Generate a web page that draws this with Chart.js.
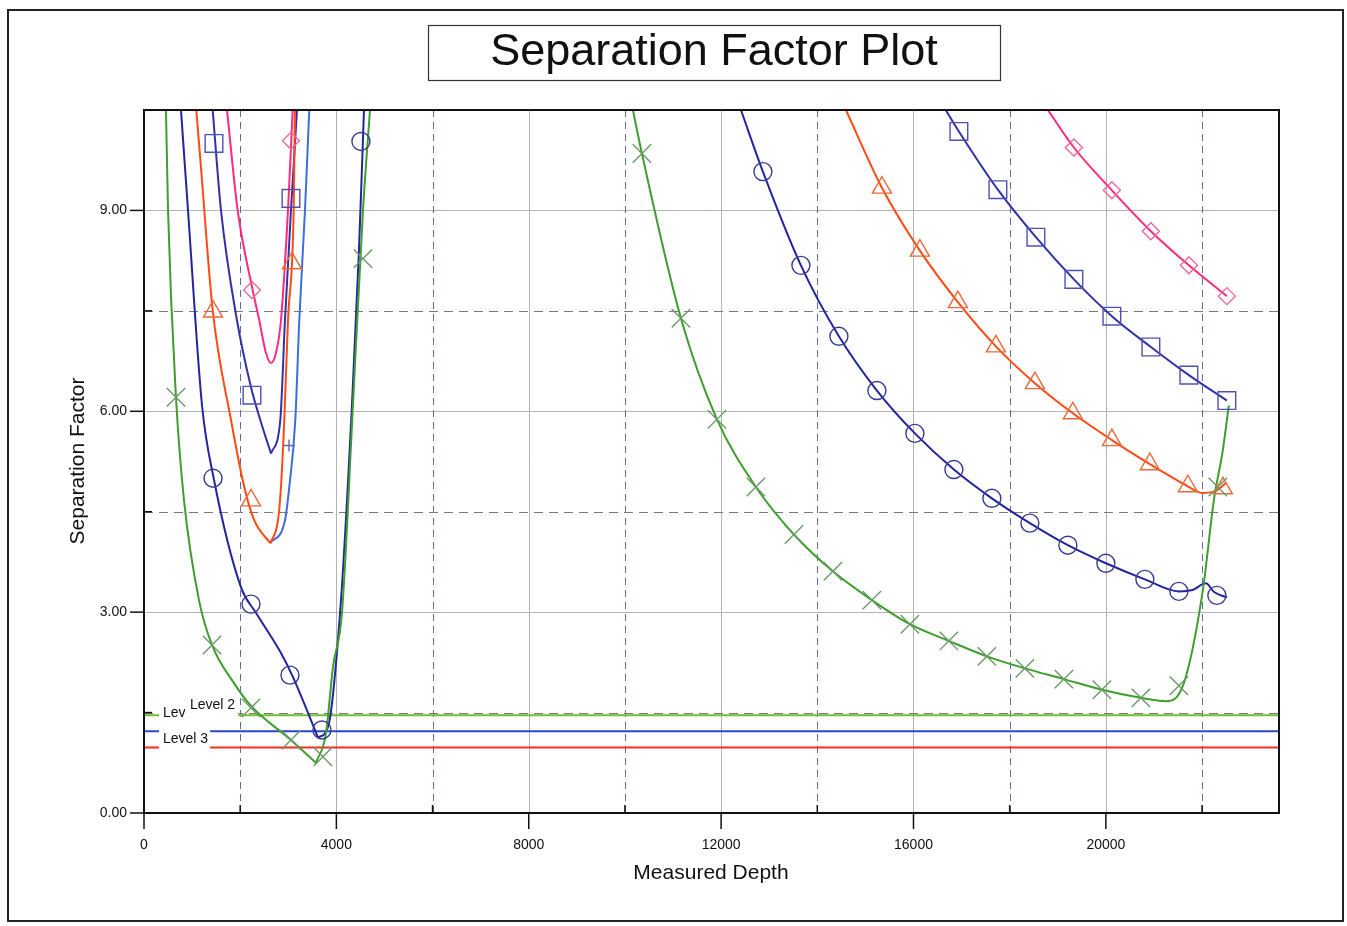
<!DOCTYPE html>
<html>
<head>
<meta charset="utf-8">
<script src="https://cdn.jsdelivr.net/npm/chart.js@4.4.1/dist/chart.umd.min.js"></script>
<style>
  html, body { margin: 0; padding: 0; background: #fff; }
</style>
</head>
<body>
<canvas id="myChart" width="1347" height="926"></canvas>
<script>
// axes
const depthTicks = [0, 4000, 8000, 12000, 16000, 20000];
const depthMinor = [2000, 6000, 10000, 14000, 18000, 22000];
const sfTicks = [0, 3, 6, 9];
const sfMinor = [1.5, 4.5, 7.5];

// level lines (separation factor)
const levelNames = ['Level 1', 'Level 2', 'Level 3'];
const levelValues = [1.46, 1.22, 0.98];
const levelDepth = [0, 23600];

// green x series  [measured depth, separation factor]
const greenFall = [[457,10.5],[500,9.0],[665,6.21],[832,4.67],[1143,3.18],[1414,2.51],[1871,1.94],[2225,1.6],[3056,1.09],[3576,0.75]];
const greenRise = [[3576,0.75],[3784,1.19],[3929,2.18],[4116,2.99],[4345,6.09],[4553,9.0],[4699,10.5]];
const greenTail = [[10166,10.5],[10353,9.85],[11164,7.39],[11913,5.88],[12723,4.87],[13514,4.16],[14324,3.61],[15135,3.18],[15925,2.82],[16736,2.57],[17526,2.34],[18316,2.16],[19127,2.0],[19917,1.84],[20728,1.72],[21250,1.67],[21622,1.94],[22017,3.33],[22245,4.67],[22432,5.42],[22557,6.09]];
const greenMarks = [[665,6.21],[1414,2.51],[2225,1.57],[3056,1.09],[3720,0.84],[4553,8.28],[10353,9.85],[11164,7.39],[11913,5.88],[12723,4.87],[13514,4.16],[14324,3.61],[15135,3.18],[15925,2.82],[16736,2.57],[17526,2.34],[18316,2.16],[19127,2.0],[19917,1.84],[20728,1.72],[21518,1.9],[22328,4.87]];

// navy circle series
const navyFall = [[769,10.5],[915,9.0],[1206,6.09],[1449,5.0],[2017,3.37],[2328,2.99],[2848,2.39],[3098,2.03],[3617,1.13]];
const navyRise = [[3617,1.13],[3825,1.28],[4096,3.18],[4324,6.09],[4470,8.4],[4574,10.5]];
const navyTail = [[12412,10.5],[12869,9.58],[13659,8.18],[14449,7.12],[15239,6.31],[16029,5.67],[16840,5.13],[17630,4.70],[18420,4.33],[19210,4.0],[20000,3.73],[20811,3.49],[21518,3.31],[21800,3.33],[22080,3.43],[22250,3.3],[22520,3.22]];
const navyMarks = [[1435,5.0],[2225,3.12],[3035,2.06],[3700,1.24],[4511,10.03],[12869,9.58],[13659,8.18],[14449,7.12],[15239,6.31],[16029,5.67],[16840,5.13],[17630,4.70],[18420,4.33],[19210,4.0],[20000,3.73],[20811,3.49],[21518,3.31],[22308,3.25]];

// orange triangle series
const orangeFall = [[1087,10.5],[1185,9.64],[1428,7.51],[1809,5.87],[2085,4.87],[2293,4.37],[2626,4.03]];
const orangeRise = [[2626,4.03],[2786,4.37],[2848,4.87],[2917,5.87],[2994,7.36],[3112,9.0],[3139,10.5]];
const orangeTail = [[14595,10.5],[15343,9.34],[16133,8.40],[16923,7.63],[17713,6.97],[18524,6.42],[19314,5.97],[20125,5.57],[20915,5.21],[21705,4.88],[22000,4.78],[22250,4.8],[22500,4.93]];
const orangeMarks = [[1435,7.49],[2225,4.67],[3077,8.21],[15343,9.34],[16133,8.40],[16923,7.63],[17713,6.97],[18524,6.42],[19314,5.97],[20125,5.57],[20915,5.21],[21705,4.88],[22433,4.85]];

// blue square series
const blueFall = [[1428,10.5],[1601,9.0],[1933,7.36],[2225,6.36],[2418,5.87],[2640,5.37]];
const blueRise = [[2640,5.37],[2834,5.87],[2931,7.36],[3056,9.0],[3181,10.5]];
const blueTail = [[16670,10.5],[16944,10.18],[17755,9.31],[18545,8.60],[19335,7.97],[20125,7.42],[20936,6.96],[21726,6.54],[22516,6.16]];
const blueMarks = [[1455,10.0],[2245,6.24],[3056,9.18],[16944,10.18],[17755,9.31],[18545,8.60],[19335,7.97],[20125,7.42],[20936,6.96],[21726,6.54],[22516,6.16]];

// pink diamond series
const pinkBowl = [[1726,10.5],[1948,9.0],[2260,7.81],[2397,7.36],[2536,6.87],[2640,6.72],[2744,6.87],[2848,7.36],[2994,9.0],[3091,10.5]];
const pinkTail = [[18794,10.5],[19335,9.94],[20125,9.30],[20936,8.69],[21726,8.18],[22516,7.72]];
const pinkMarks = [[2245,7.81],[3056,10.04],[19335,9.94],[20125,9.30],[20936,8.69],[21726,8.18],[22516,7.72]];

// light blue plus series
const skyRise = [[2626,4.03],[2931,4.37],[3021,4.87],[3146,5.87],[3229,7.36],[3347,9.0],[3437,10.5]];
const skyMarks = [[3015,5.49]];

const FONT = "'Liberation Sans', Arial, sans-serif";

function xy(points) {
    return points.map(p => ({ x: p[0], y: p[1] }));
}

function curve(points, color) {
    return {
        data: xy(points),
        showLine: true,
        borderColor: color,
        borderWidth: 2,
        pointRadius: 0,
        cubicInterpolationMode: 'monotone',
        fill: false
    };
}

function marks(points, style, color, r) {
    return {
        data: xy(points),
        showLine: false,
        pointStyle: style,
        pointRadius: r,
        pointBorderColor: color,
        pointBackgroundColor: 'rgba(0,0,0,0)',
        pointBorderWidth: 1.4
    };
}

const levelColors = ['#6cbf2e', '#2a46d0', '#ff2a1e'];

const datasets = [
    marks(greenMarks, 'crossRot', '#6b9a68', 13),
    marks(navyMarks, 'circle', '#3a3a94', 9),
    marks(orangeMarks, 'triangle', '#ec6a3a', 11),
    marks(blueMarks, 'rect', '#5050b4', 12.5),
    marks(pinkMarks, 'rectRot', '#ee6a98', 8.5),
    marks(skyMarks, 'cross', '#5a6ab0', 6),
    curve(greenFall, '#3e9e2e'), curve(greenRise, '#3e9e2e'), curve(greenTail, '#3e9e2e'),
    curve(navyFall, '#2424a0'), curve(navyRise, '#2424a0'), curve(navyTail, '#2424a0'),
    curve(orangeFall, '#ff4a14'), curve(orangeRise, '#ff4a14'), curve(orangeTail, '#ff4a14'),
    curve(blueFall, '#3232a8'), curve(blueRise, '#3232a8'), curve(blueTail, '#3232a8'),
    curve(pinkBowl, '#ff2a80'), curve(pinkTail, '#ff2a80'),
    curve(skyRise, '#3c6ee0')
];
levelValues.forEach((v, i) => {
    datasets.push({
        data: levelDepth.map(d => ({ x: d, y: v })),
        showLine: true,
        borderColor: levelColors[i],
        borderWidth: 2,
        pointRadius: 0,
        tension: 0
    });
});

const framePlugin = {
    id: 'frame',
    beforeDraw(chart) {
        const ctx = chart.ctx;
        ctx.save();
        ctx.fillStyle = '#fff';
        ctx.fillRect(0, 0, chart.width, chart.height);
        ctx.restore();
    },
    beforeDatasetsDraw(chart) {
        const { ctx, chartArea: a, scales: { x, y } } = chart;
        ctx.save();
        ctx.lineWidth = 1;
        // solid grid
        ctx.strokeStyle = '#b4b4b4';
        depthTicks.forEach(v => {
            const px = Math.round(x.getPixelForValue(v)) + 0.5;
            ctx.beginPath(); ctx.moveTo(px, a.top); ctx.lineTo(px, a.bottom); ctx.stroke();
        });
        sfTicks.forEach(v => {
            const py = Math.round(y.getPixelForValue(v)) + 0.5;
            ctx.beginPath(); ctx.moveTo(a.left, py); ctx.lineTo(a.right, py); ctx.stroke();
        });
        // dashed grid
        ctx.setLineDash([7, 5]);
        ctx.strokeStyle = '#5e6ca8';
        depthMinor.forEach(v => {
            const px = Math.round(x.getPixelForValue(v)) + 0.5;
            ctx.beginPath(); ctx.moveTo(px, a.top); ctx.lineTo(px, a.bottom); ctx.stroke();
        });
        ctx.setLineDash([9, 6]);
        ctx.strokeStyle = '#7a7a7a';
        sfMinor.forEach(v => {
            const py = Math.round(y.getPixelForValue(v)) + 0.5;
            ctx.beginPath(); ctx.moveTo(a.left, py); ctx.lineTo(a.right, py); ctx.stroke();
        });
        ctx.restore();
    },
    afterDatasetsDraw(chart) {
        const { ctx, chartArea: a, scales: { x, y } } = chart;
        ctx.save();
        // level labels with white backing, level 2 sits over level 1
        ctx.font = '14px ' + FONT;
        ctx.textBaseline = 'middle';
        const labelSpots = [[163, 713], [190, 705], [163, 739]];
        labelSpots.forEach((p, i) => {
            const w = ctx.measureText(levelNames[i]).width;
            ctx.fillStyle = '#fff';
            if (i === 1) {
                ctx.fillRect(p[0] - 5, p[1] - 10, w + 8, 18);
                ctx.fillRect(p[0] - 5, p[1] + 8, w + 8, 14);
            } else {
                ctx.fillRect(p[0] - 4, p[1] - 10, w + 6, 20);
            }
            ctx.fillStyle = '#111';
            ctx.fillText(levelNames[i], p[0], p[1]);
        });
        // plot border
        ctx.strokeStyle = '#111';
        ctx.lineWidth = 2;
        ctx.strokeRect(a.left, a.top, a.right - a.left, a.bottom - a.top);
        // tick marks
        ctx.lineWidth = 1.5;
        depthTicks.forEach(v => {
            const px = x.getPixelForValue(v);
            ctx.beginPath(); ctx.moveTo(px, a.bottom); ctx.lineTo(px, a.bottom + 16); ctx.stroke();
        });
        depthMinor.forEach(v => {
            const px = x.getPixelForValue(v);
            ctx.beginPath(); ctx.moveTo(px, a.bottom); ctx.lineTo(px, a.bottom - 8); ctx.stroke();
        });
        sfTicks.forEach(v => {
            const py = y.getPixelForValue(v);
            ctx.beginPath(); ctx.moveTo(a.left, py); ctx.lineTo(a.left - 14, py); ctx.stroke();
        });
        sfMinor.forEach(v => {
            const py = y.getPixelForValue(v);
            ctx.beginPath(); ctx.moveTo(a.left, py); ctx.lineTo(a.left + 8, py); ctx.stroke();
        });
        ctx.restore();
    },
    afterDraw(chart) {
        const ctx = chart.ctx;
        ctx.save();
        // outer frame
        ctx.strokeStyle = '#222';
        ctx.lineWidth = 2;
        ctx.strokeRect(8, 10, 1335, 911);
        // title box
        ctx.lineWidth = 1.2;
        ctx.strokeStyle = '#333';
        ctx.strokeRect(428.5, 25.5, 572, 55);
        ctx.fillStyle = '#111';
        ctx.textAlign = 'center';
        ctx.textBaseline = 'middle';
        ctx.font = '45px ' + FONT;
        ctx.fillText('Separation Factor Plot', 714, 53);
        // axis titles
        ctx.font = '21px ' + FONT;
        ctx.fillText('Measured Depth', 711, 873);
        ctx.translate(78, 461);
        ctx.rotate(-Math.PI / 2);
        ctx.fillText('Separation Factor', 0, 0);
        ctx.restore();
    }
};

const ctx = document.querySelector('#myChart').getContext('2d');
const myChart = new Chart(ctx, {
    type: 'scatter',
    data: { datasets: datasets },
    options: {
        responsive: false,
        animation: false,
        devicePixelRatio: 1,
        layout: { padding: { left: 0, top: 110, right: 68, bottom: 0 } },
        plugins: {
            legend: { display: false },
            tooltip: { enabled: false },
            title: { display: false }
        },
        scales: {
            x: {
                type: 'linear',
                min: 0,
                max: 23600,
                afterFit: s => { s.height = 113; },
                afterBuildTicks: s => { s.ticks = depthTicks.map(v => ({ value: v })); },
                grid: { display: false, drawTicks: false },
                border: { display: false },
                ticks: {
                    padding: 24,
                    color: '#111',
                    font: { family: FONT, size: 14 },
                    maxRotation: 0,
                    callback: v => String(v)
                }
            },
            y: {
                type: 'linear',
                min: 0,
                max: 10.5,
                afterFit: s => { s.width = 144; },
                afterBuildTicks: s => { s.ticks = sfTicks.map(v => ({ value: v })); },
                grid: { display: false, drawTicks: false },
                border: { display: false },
                ticks: {
                    padding: 17,
                    color: '#111',
                    font: { family: FONT, size: 14 },
                    callback: v => Number(v).toFixed(2)
                }
            }
        }
    },
    plugins: [framePlugin]
});
</script>
</body>
</html>
